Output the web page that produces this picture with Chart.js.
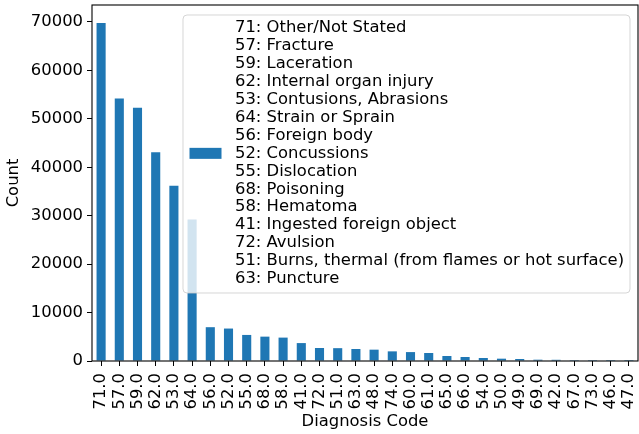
<!DOCTYPE html>
<html>
<head>
<meta charset="utf-8">
<script src="https://cdn.jsdelivr.net/npm/chart.js@4.4.1/dist/chart.umd.min.js"></script>
<style>
  html, body { margin: 0; padding: 0; background: #fff; }
  #wrap { width: 639px; height: 434px; }
</style>
</head>
<body>
<div id="wrap"><canvas id="myChart"></canvas></div>
<script>
// diagnosis codes, sorted by count
const codes = ['71.0', '57.0', '59.0', '62.0', '53.0', '64.0', '56.0', '52.0', '55.0', '68.0',
  '58.0', '41.0', '72.0', '51.0', '63.0', '48.0', '74.0', '60.0', '61.0', '65.0',
  '66.0', '54.0', '50.0', '49.0', '69.0', '42.0', '67.0', '73.0', '46.0', '47.0'];
const counts = [69800, 54200, 52300, 43100, 36200, 29200, 6980, 6700, 5380, 5030,
  4830, 3700, 2690, 2650, 2480, 2340, 1990, 1840, 1650, 1030,
  830, 620, 480, 410, 270, 250, 20, 10, 5, 2];
const yTicks = [0, 10000, 20000, 30000, 40000, 50000, 60000, 70000];
const legendLines = [
  '71: Other/Not Stated',
  '57: Fracture',
  '59: Laceration',
  '62: Internal organ injury',
  '53: Contusions, Abrasions',
  '64: Strain or Sprain',
  '56: Foreign body',
  '52: Concussions',
  '55: Dislocation',
  '68: Poisoning',
  '58: Hematoma',
  '41: Ingested foreign object',
  '72: Avulsion',
  '51: Burns, thermal (from flames or hot surface)',
  '63: Puncture'
];

const FONT = 'DejaVu Sans';
const FS = 16.4;
const barColor = '#1f77b4';

// full box round the plot + the big multi-line legend
const frameAndLegend = {
  id: 'frameAndLegend',
  afterDraw(chart) {
    const ctx = chart.ctx;
    const a = chart.chartArea;
    ctx.save();
    ctx.strokeStyle = '#000';
    ctx.lineWidth = 1.1;
    ctx.strokeRect(a.left, a.top, a.right - a.left, a.bottom - a.top);

    // legend box
    const bx = 183, by = 15, bw = 447, bh = 278, r = 4;
    ctx.beginPath();
    ctx.moveTo(bx + r, by);
    ctx.lineTo(bx + bw - r, by);
    ctx.quadraticCurveTo(bx + bw, by, bx + bw, by + r);
    ctx.lineTo(bx + bw, by + bh - r);
    ctx.quadraticCurveTo(bx + bw, by + bh, bx + bw - r, by + bh);
    ctx.lineTo(bx + r, by + bh);
    ctx.quadraticCurveTo(bx, by + bh, bx, by + bh - r);
    ctx.lineTo(bx, by + r);
    ctx.quadraticCurveTo(bx, by, bx + r, by);
    ctx.closePath();
    ctx.fillStyle = 'rgba(255,255,255,0.8)';
    ctx.fill();
    ctx.strokeStyle = 'rgba(204,204,204,0.8)';
    ctx.lineWidth = 1;
    ctx.stroke();

    const lineH = 17.95;
    const y0 = 27.7;
    const mid = y0 + lineH * (legendLines.length - 1) / 2;
    ctx.fillStyle = barColor;
    ctx.fillRect(189.5, mid - 5.5, 32, 11);

    ctx.fillStyle = '#000';
    ctx.font = FS + 'px "' + FONT + '"';
    ctx.textBaseline = 'middle';
    ctx.textAlign = 'left';
    legendLines.forEach((t, i) => ctx.fillText(t, 235, y0 + i * lineH));
    ctx.restore();
  }
};

const ctx = document.getElementById('myChart').getContext('2d');
const myChart = new Chart(ctx, {
  type: 'bar',
  data: {
    labels: codes,
    datasets: [{
      label: 'Count',
      data: counts,
      backgroundColor: barColor,
      borderWidth: 0,
      categoryPercentage: 1.0,
      barPercentage: 0.5
    }]
  },
  options: {
    responsive: true,
    maintainAspectRatio: false,
    animation: false,
    devicePixelRatio: 1,
    layout: { padding: { top: 5, right: 1, left: 0, bottom: 0 } },
    plugins: {
      legend: { display: false },
      tooltip: { enabled: false }
    },
    scales: {
      x: {
        grid: {
          offset: false,
          drawOnChartArea: false,
          drawTicks: true,
          tickLength: 5,
          color: '#000',
          lineWidth: 1
        },
        border: { display: false },
        ticks: {
          autoSkip: false,
          minRotation: 90,
          maxRotation: 90,
          padding: 7,
          color: '#000',
          font: { family: FONT, size: FS }
        },
        title: {
          display: true,
          text: 'Diagnosis Code',
          color: '#000',
          font: { family: FONT, size: FS },
          padding: { top: 2, bottom: 2 }
        },
        afterFit(scale) {
          scale.height = 73;
          scale.paddingLeft = 0;
          scale.paddingRight = 0;
        }
      },
      y: {
        min: 0,
        max: 73500,
        grid: {
          drawOnChartArea: false,
          drawTicks: true,
          tickLength: 5,
          color: '#000',
          lineWidth: 1
        },
        border: { display: false },
        ticks: {
          padding: 4,
          color: '#000',
          font: { family: FONT, size: FS },
          callback: v => String(v)
        },
        afterBuildTicks(scale) { scale.ticks = yTicks.map(v => ({ value: v })); },
        title: {
          display: true,
          text: 'Count',
          color: '#000',
          font: { family: FONT, size: FS },
          padding: { top: 4, bottom: 4 }
        },
        afterFit(scale) {
          scale.width = 92;
          scale.paddingTop = 0;
          scale.paddingBottom = 0;
        }
      }
    }
  },
  plugins: [frameAndLegend]
});
</script>
</body>
</html>
